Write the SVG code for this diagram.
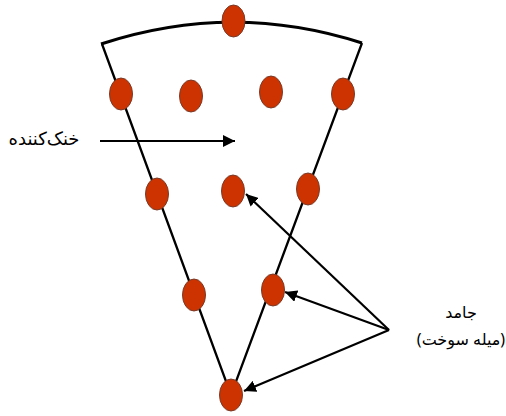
<svg xmlns="http://www.w3.org/2000/svg" width="506" height="416" viewBox="0 0 506 416">
<defs>
<marker id="ah" markerUnits="userSpaceOnUse" markerWidth="13" markerHeight="12" refX="12" refY="6" orient="auto"><path d="M0 0L12 6L0 12Z" fill="#000"/></marker>
</defs>
<style>
.rod{fill:#cc3300;stroke:#7a3a28;stroke-width:1}
.ln{fill:none;stroke:#000;stroke-width:2.300}
.ar{fill:none;stroke:#000;stroke-width:2.200;marker-end:url(#ah)}
text{font-family:"Noto Sans","DejaVu Sans",sans-serif;fill:#000;text-anchor:middle}
</style>
<rect width="506" height="416" fill="#fff"/>
<g id="connectors">
<path class="ln" style="stroke-width:3" d="M101 44Q232 1 362 43"/>
<path class="ln" d="M102 44L231 395L362 43"/>
<path class="ar" d="M100 141L235 141"/>
<path class="ar" d="M389 330L246 194"/>
<path class="ar" d="M389 330L285 292"/>
<path class="ar" d="M389 330L244 391"/>
</g>
<g id="rod-top"><ellipse class="rod" cx="233.500" cy="21" rx="11.500" ry="16"/></g>
<g id="rod-r1a"><ellipse class="rod" cx="121" cy="94" rx="11.500" ry="16"/></g>
<g id="rod-r1b"><ellipse class="rod" cx="191" cy="96" rx="11.500" ry="16"/></g>
<g id="rod-r1c"><ellipse class="rod" cx="271" cy="92" rx="11.500" ry="16"/></g>
<g id="rod-r1d"><ellipse class="rod" cx="343" cy="94" rx="11.500" ry="16"/></g>
<g id="rod-r2a"><ellipse class="rod" cx="157" cy="194" rx="11.500" ry="16"/></g>
<g id="rod-r2b"><ellipse class="rod" cx="233" cy="191" rx="11.500" ry="16"/></g>
<g id="rod-r2c"><ellipse class="rod" cx="308" cy="189" rx="11.500" ry="16"/></g>
<g id="rod-r3a"><ellipse class="rod" cx="194" cy="295" rx="11.500" ry="16"/></g>
<g id="rod-r3b"><ellipse class="rod" cx="273" cy="290" rx="11.500" ry="16"/></g>
<g id="rod-bottom"><ellipse class="rod" cx="231" cy="395" rx="11.500" ry="16"/></g>
<g id="label-coolant"><text x="44" y="145" font-size="18" direction="rtl">خنک‌کننده</text></g>
<g id="label-solid"><text x="461" y="318" font-size="16" direction="rtl">جامد</text><text x="461" y="345" font-size="16" direction="rtl">(میله سوخت)</text></g>
</svg>
